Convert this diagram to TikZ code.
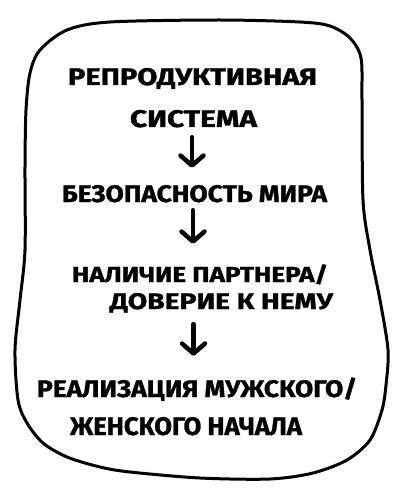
\documentclass[tikz,border=0pt]{standalone}
\usepackage{graphicx}
\usepackage{fontspec}
\setmainfont{Fira Sans}[BoldFeatures={FakeBold=1.2}]
\usetikzlibrary{arrows.meta}
\newcommand\fitline[3]{\resizebox{#1pt}{#2pt}{\bfseries #3}}
\tikzset{
  frame/.style={line width=3pt, line join=round},
  txt/.style={inner sep=0pt, anchor=base, text depth=0pt},
  arr/.style={line width=4.5pt, line cap=round,
    -{Straight Barb[length=10pt,width=23pt,round]}},
}
\begin{document}
\begin{tikzpicture}[x=1pt,y=-1pt]
\useasboundingbox (0,0) rectangle (408,500);
\fill[white] (0,0) rectangle (408,500);
\draw[frame] plot[smooth cycle, tension=0.5] coordinates {
  (110,22) (220,20) (300,22) (330,26) (350,38) (361,58) (362,100) (363,200)
  (370,250) (380,300) (388,350) (386,385) (382,410) (370,440) (347,460)
  (313,473) (270,479) (200,478) (130,472) (100,467) (67,457) (43,443)
  (27,423) (18,400) (15,350) (20,300) (25,250) (25,167) (26,110) (30,73)
  (40,50) (67,30)};
\node[txt] (L1) at (192.5,85) {\fitline{249}{17}{РЕПРОДУКТИВНАЯ}};
\node[txt] (L2) at (193.5,127) {\fitline{127}{17}{СИСТЕМА}};
\node[txt] (L3) at (194.5,202) {\fitline{265}{17}{БЕЗОПАСНОСТЬ МИРА}};
\node[txt] (L4) at (200,282) {\fitline{256}{15}{НАЛИЧИЕ ПАРТНЕРА\smash{/}}};
\node[txt] (L5) at (221.5,309) {\fitline{223}{16}{ДОВЕРИЕ К НЕМУ}};
\node[txt] (L6) at (197,397) {\fitline{320}{17}{РЕАЛИЗАЦИЯ МУЖСКОГО\smash{/}}};
\node[txt] (L7) at (186,435) {\fitline{232}{18}{ЖЕНСКОГО НАЧАЛА}};
\draw[arr, shorten <=10pt, shorten >=17pt] ([xshift=-1.5pt]L2.south) -- ([xshift=-1.5pt]L2.south |- L3.north);
\draw[arr, shorten <=8pt, shorten >=23pt] ([xshift=-1.5pt]L3.south) -- ([xshift=-1.5pt]L3.south |- L4.north);
\draw[arr, shorten <=15pt, shorten >=24pt] (L2.south |- L5.south) -- (L2.south |- L6.north);
\end{tikzpicture}
\end{document}
